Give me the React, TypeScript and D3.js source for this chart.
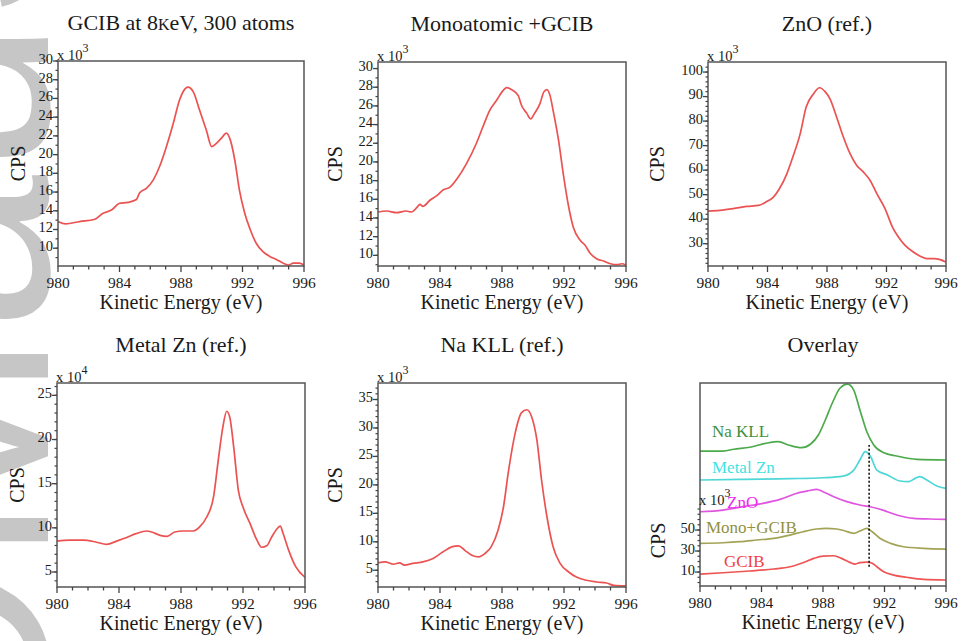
import React from "react";
import * as d3 from "d3";

const W = 962;
const H = 641;
const SERIF = { fontFamily: "Liberation Serif" };
const RED = "#eb5252";

const energyTicks = [980, 984, 988, 992, 996];
const energyMinor = d3.range(980, 997, 1);

// GCIB at 8 keV, 300 atoms (CPS x10^3)
const gcibE = [980, 980.5, 981.4, 982.4, 982.9, 983.5, 984, 984.55, 985.1, 985.3, 985.75, 986.2, 986.6, 987.05, 987.5, 987.9, 988.25, 988.45, 988.8, 989.2, 989.65, 990, 990.3, 990.6, 990.95, 991.2, 991.5, 991.8, 992.15, 992.5, 992.9, 993.35, 993.8, 994.2, 994.65, 995, 995.3, 995.7, 996];
const gcibCps = [12.85, 12.6, 12.85, 13.1, 13.7, 14.1, 14.8, 14.9, 15.2, 15.9, 16.4, 17.3, 18.7, 20.85, 23.35, 25.8, 27.0, 27.2, 26.7, 24.8, 22.6, 20.85, 21.2, 21.7, 22.3, 21.6, 19.4, 16.2, 13.7, 12.0, 10.5, 9.6, 9.1, 8.8, 8.4, 8.2, 8.4, 8.4, 8.2];

// Monoatomic + GCIB (CPS x10^3)
const monoE = [980, 980.55, 981.2, 981.8, 982.15, 982.5, 982.7, 982.9, 983.35, 983.8, 984.2, 984.65, 985.1, 985.7, 986.35, 986.8, 987.2, 987.65, 988, 988.3, 988.6, 989.05, 989.25, 989.6, 989.85, 990.1, 990.45, 990.7, 990.9, 991.1, 991.3, 991.65, 991.95, 992.3, 992.6, 993.05, 993.35, 993.7, 994.1, 994.55, 995, 995.4, 995.75, 996];
const monoCps = [14.64, 14.75, 14.57, 14.75, 14.64, 15.1, 15.46, 15.25, 15.9, 16.4, 17.0, 17.3, 18.2, 19.8, 22.0, 23.9, 25.5, 26.6, 27.5, 27.96, 27.75, 27.1, 26.1, 25.2, 24.6, 25.2, 26.25, 27.5, 27.75, 27.1, 25.5, 22.3, 18.75, 15.2, 13.0, 11.6, 11.1, 10.2, 9.64, 9.4, 9.1, 9.0, 9.1, 8.93];

// ZnO reference (CPS x10^3)
const znoE = [980, 980.8, 981.7, 982.6, 983.4, 983.9, 984.4, 984.8, 985.3, 985.7, 986.2, 986.6, 987.1, 987.5, 987.9, 988.2, 988.65, 989.1, 989.55, 990, 990.45, 990.9, 991.35, 991.9, 992.4, 992.8, 993.25, 993.8, 994.3, 994.7, 995.2, 995.6, 996];
const znoCps = [43.3, 43.6, 44.3, 45.2, 45.6, 47.0, 49.0, 52.4, 58.5, 65.3, 74.9, 85.7, 91.2, 93.6, 91.8, 89.1, 81.6, 73.5, 66.7, 61.9, 59.2, 55.8, 50.4, 44.3, 36.8, 32.7, 29.3, 26.6, 24.8, 23.9, 23.9, 23.5, 22.5];

// Metal Zn reference (CPS x10^4)
const znE = [980, 980.8, 981.7, 982.5, 983.2, 983.85, 984.5, 985.1, 985.8, 986.1, 986.65, 987.1, 987.6, 988.15, 988.8, 989.2, 989.65, 990.1, 990.4, 990.7, 990.95, 991.15, 991.4, 991.7, 992, 992.45, 992.9, 993.2, 993.55, 993.85, 994.2, 994.4, 994.6, 994.95, 995.4, 996];
const znCps = [8.5, 8.6, 8.6, 8.4, 8.13, 8.5, 8.9, 9.34, 9.64, 9.53, 9.15, 9.04, 9.53, 9.64, 9.64, 10.1, 11.2, 13.5, 17.6, 21.4, 23.2, 22.5, 19.15, 14.25, 12.35, 10.5, 8.6, 7.8, 8.0, 8.96, 9.9, 10.2, 9.3, 7.45, 5.6, 4.4];

// Na KLL reference (CPS x10^3)
const naE = [980, 980.45, 981, 981.4, 981.7, 982.25, 982.9, 983.55, 984.2, 984.75, 985.2, 985.6, 986.05, 986.5, 986.9, 987.3, 987.75, 988.1, 988.4, 988.85, 989.25, 989.6, 989.9, 990.25, 990.55, 990.9, 991.3, 991.75, 992.3, 992.8, 993.45, 994.1, 994.75, 995.2, 996];
const naCps = [6.3, 6.47, 6.06, 6.3, 5.9, 6.2, 6.47, 7.06, 8.24, 9.1, 9.3, 8.5, 7.65, 7.35, 7.94, 9.1, 12.06, 16.2, 22.06, 29.1, 32.65, 33.2, 32.06, 27.9, 20.9, 14.4, 9.1, 6.2, 4.7, 3.8, 3.24, 2.94, 2.76, 2.35, 2.24];

// Overlay (stacked, CPS x10^3)
const ovNaE = [980, 981.5, 982.2, 983.25, 984.3, 985.1, 985.75, 986.6, 987.2, 987.7, 988.15, 988.6, 989.1, 989.6, 990, 990.4, 990.85, 991.3, 991.95, 992.8, 994.1, 996];
const ovNa = [125.2, 125.2, 126.9, 128.8, 132.6, 134.1, 131.0, 128.4, 131.9, 140.5, 154.8, 170.7, 185.0, 189.0, 183.3, 164.3, 143.6, 131.0, 123.6, 120.5, 117.3, 116.7];
const ovZnE = [980, 982.6, 985.85, 988, 989.3, 990, 990.4, 990.75, 991.1, 991.5, 992.2, 993, 993.55, 994, 994.3, 994.75, 995.4, 996];
const ovZn = [97.6, 98.3, 98.9, 99.8, 101.4, 107.1, 116.7, 124.6, 119.8, 107.1, 102.4, 96.7, 96.0, 99.2, 100.8, 97.6, 91.9, 89.7];
const ovZnoE = [980, 981.5, 982.8, 984.1, 985.2, 986.3, 987.05, 987.6, 988, 988.7, 989.55, 990.4, 991.05, 991.9, 992.8, 993.9, 994.95, 996];
const ovZno = [67.4, 69.0, 72.2, 75.4, 79.2, 85.0, 87.4, 88.8, 86.5, 81.7, 77.0, 73.8, 72.2, 69.0, 64.3, 61.1, 60.5, 60.2];
const ovMonoE = [980, 981.5, 982.6, 983.7, 984.8, 985.85, 986.7, 987.6, 988.2, 988.9, 989.4, 990, 990.4, 990.85, 991.2, 991.7, 992.4, 993.25, 994.55, 996];
const ovMono = [37.3, 37.9, 38.9, 40.5, 42.1, 45.2, 48.4, 51.0, 51.6, 51.0, 49.3, 46.9, 49.0, 51.6, 48.4, 42.1, 37.3, 34.1, 32.6, 31.9];
const ovGcibE = [980, 981.5, 983.25, 984.8, 985.85, 986.7, 987.4, 988, 988.7, 989.2, 989.75, 990.1, 990.4, 990.85, 991.2, 991.5, 991.95, 992.6, 993.45, 994.55, 996];
const ovGcib = [8.1, 9.3, 11.0, 12.9, 15.0, 18.9, 23.0, 25.2, 25.5, 23.0, 19.2, 17.6, 18.9, 19.5, 18.3, 15.0, 10.3, 7.1, 5.0, 3.0, 2.4];

// dotted marker at the metal Zn peak
const markerE = 991;
const markerRange = [15, 131];

const panels = [
  {
    id: "p1", title: "GCIB at 8", titleSc: "K", titleEnd: "eV, 300 atoms",
    left: 58, right: 304, top: 61, bottom: 266, yDomain: [8.1, 30],
    yTicks: d3.range(10, 31, 2), yMinor: d3.range(9, 31, 1), exp: "3", cpsDx: 40,
    series: [{ e: gcibE, v: gcibCps, color: RED }],
  },
  {
    id: "p2", title: "Monoatomic +GCIB",
    left: 378, right: 626, top: 62, bottom: 266, yDomain: [8.86, 30.7],
    yTicks: d3.range(10, 31, 2), yMinor: d3.range(9, 31, 1), exp: "3", cpsDx: 43,
    series: [{ e: monoE, v: monoCps, color: RED }],
  },
  {
    id: "p3", title: "ZnO (ref.)",
    left: 708, right: 946, top: 62, bottom: 266, yDomain: [20.9, 104.1],
    yTicks: d3.range(30, 101, 10), yMinor: d3.range(22, 104, 2), exp: "3", cpsDx: 51,
    series: [{ e: znoE, v: znoCps, color: RED }],
  },
  {
    id: "p4", title: "Metal Zn (ref.)",
    left: 57, right: 305, top: 383, bottom: 587, yDomain: [3.3, 26.4],
    yTicks: d3.range(5, 26, 5), yMinor: d3.range(4, 27, 1), exp: "4", cpsDx: 40,
    series: [{ e: znE, v: znCps, color: RED }],
  },
  {
    id: "p5", title: "Na KLL (ref.)",
    left: 378, right: 626, top: 383, bottom: 587, yDomain: [2.06, 37.9],
    yTicks: d3.range(5, 36, 5), yMinor: d3.range(3, 38, 1), exp: "3", cpsDx: 43,
    series: [{ e: naE, v: naCps, color: RED }],
  },
  {
    id: "p6", title: "Overlay", overlay: true,
    left: 700, right: 946, top: 383, bottom: 586, yDomain: [-3.3, 190],
    yTicks: [10, 30, 50], yMinor: d3.range(0, 71, 5), exp: "3", cpsDx: 42, expAt: 74, cpsAt: 40,
    series: [
      { e: ovNaE, v: ovNa, color: "#4caa4c", label: "Na KLL", labelColor: "#3f8f3f", lx: 980.78, ly: 138.6 },
      { e: ovZnE, v: ovZn, color: "#4fd6d6", label: "Metal Zn", labelColor: "#3fe3e3", lx: 980.78, ly: 104.3 },
      { e: ovZnoE, v: ovZno, color: "#e055e0", label: "ZnO", labelColor: "#f02af0", lx: 981.76, ly: 71 },
      { e: ovMonoE, v: ovMono, color: "#a3a357", label: "Mono+GCIB", labelColor: "#91913f", lx: 980.39, ly: 47.1 },
      { e: ovGcibE, v: ovGcib, color: "#ee5555", label: "GCIB", labelColor: "#f23f3f", lx: 981.56, ly: 14.8 },
    ],
  },
];

function Panel({ p }: { p: any }) {
  const x = d3.scaleLinear().domain([980, 996]).range([p.left, p.right]);
  const y = d3.scaleLinear().domain(p.yDomain).range([p.bottom, p.top]);
  const line = d3
    .line<[number, number]>()
    .x((d) => x(d[0]))
    .y((d) => y(d[1]))
    .curve(d3.curveMonotoneX);
  const cx = (p.left + p.right) / 2;
  const cpsY = p.cpsAt !== undefined ? y(p.cpsAt) : (p.top + p.bottom) / 2;
  const expY = p.expAt !== undefined ? y(p.expAt) : p.top - 1;

  return (
    <g fill="#1a1a1a">
      <defs>
        <clipPath id={`clip-${p.id}`}>
          <rect x={p.left} y={p.top} width={p.right - p.left} height={p.bottom - p.top} />
        </clipPath>
      </defs>
      <rect x={p.left} y={p.top} width={p.right - p.left} height={p.bottom - p.top} fill="#fff" />

      <text x={cx} y={p.top - 31} textAnchor="middle" fontSize={22} style={SERIF}>
        {p.title}
        {p.titleSc && <tspan fontSize={16}>{p.titleSc}</tspan>}
        {p.titleEnd}
      </text>

      <g clipPath={`url(#clip-${p.id})`}>
        {p.series.map((s: any, i: number) => (
          <path
            key={i}
            d={line(d3.zip(s.e, s.v) as [number, number][]) || ""}
            fill="none"
            stroke={s.color}
            strokeWidth={1.7}
            strokeLinejoin="round"
          />
        ))}
      </g>

      {p.overlay && (
        <line
          x1={x(markerE)}
          x2={x(markerE)}
          y1={y(markerRange[0])}
          y2={y(markerRange[1])}
          stroke="#111"
          strokeWidth={1.6}
          strokeDasharray="2,2"
        />
      )}
      {p.overlay &&
        p.series.map((s: any, i: number) => (
          <text key={i} x={x(s.lx)} y={y(s.ly)} fontSize={17} fill={s.labelColor} style={SERIF}>
            {s.label}
          </text>
        ))}

      {/* frame */}
      <rect
        x={p.left}
        y={p.top}
        width={p.right - p.left}
        height={p.bottom - p.top}
        fill="none"
        stroke="#555"
        strokeWidth={1.5}
      />

      {/* x axis */}
      {energyMinor.map((t) => (
        <line key={`xm${t}`} x1={x(t)} x2={x(t)} y1={p.bottom} y2={p.bottom + (t % 4 === 0 ? 6 : 3.5)} stroke="#444" strokeWidth={1.3} />
      ))}
      {energyTicks.map((t) => (
        <text key={`xt${t}`} x={x(t)} y={p.bottom + 22} textAnchor="middle" fontSize={15.5} style={SERIF}>
          {t}
        </text>
      ))}
      <text x={cx} y={p.bottom + 43} textAnchor="middle" fontSize={20} style={SERIF}>
        Kinetic Energy (eV)
      </text>

      {/* y axis */}
      {p.yMinor.map((t: number) => (
        <line key={`ym${t}`} x1={p.left - 2.5} x2={p.left} y1={y(t)} y2={y(t)} stroke="#444" strokeWidth={1.2} />
      ))}
      {p.yTicks.map((t: number) => (
        <g key={`yt${t}`}>
          <line x1={p.left - 5} x2={p.left} y1={y(t)} y2={y(t)} stroke="#444" strokeWidth={1.3} />
          <text x={p.left - 5} y={y(t)} dy="0.2em" textAnchor="end" fontSize={14.5} style={SERIF}>
            {t}
          </text>
        </g>
      ))}
      <text
        transform={`translate(${p.left - p.cpsDx},${cpsY}) rotate(-90)`}
        textAnchor="middle"
        dy="0.35em"
        fontSize={20}
        style={SERIF}
      >
        CPS
      </text>
      <text x={p.left - 1} y={expY} fontSize={14.5} style={SERIF}>
        x 10
        <tspan fontSize={12} dy={-8}>
          {p.exp}
        </tspan>
      </text>
    </g>
  );
}

export default function App() {
  return (
    <svg
      width={W}
      height={H}
      viewBox={`0 0 ${W} ${H}`}
      style={{ position: "absolute", left: 0, top: 0, display: "block", background: "#fff" }}
    >
      <rect width={W} height={H} fill="#fff" />
      <text
        transform="translate(48,782) rotate(-90)"
        fontSize={280}
        style={{ fontFamily: "Liberation Sans" }}
        fill="#c6c6c6"
      >
        OMauS
      </text>
      {panels.map((p) => (
        <Panel key={p.id} p={p} />
      ))}
    </svg>
  );
}
